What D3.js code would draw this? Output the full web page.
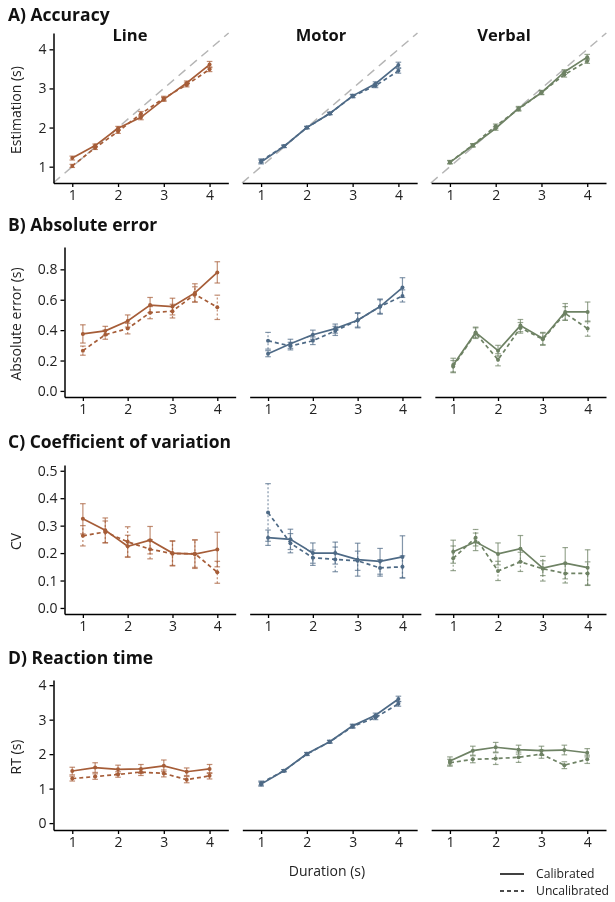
<!DOCTYPE html>
<html>
<head>
<meta charset="utf-8">
<script src="https://cdn.jsdelivr.net/npm/d3@7"></script>
<style>
  html, body { margin: 0; padding: 0; background: #fff; }
  svg { display: block; font-family: "Open Sans", "Noto Sans", sans-serif; }
  .axis text { fill: #222; font-size: 14px; font-family: "Open Sans", "Noto Sans", sans-serif; }
  .mono { filter: grayscale(1); }
</style>
</head>
<body>
<svg id="chart" width="615" height="902"></svg>
<script>
// Target durations (s)
const durations = [1, 1.5, 2, 2.5, 3, 3.5, 4];
const tasks = ["Line", "Motor", "Verbal"];
const taskColors = ["#a65d38", "#4e6a86", "#6e8264"];

// A) Accuracy: mean estimation (s) and error-bar half-widths
const accLineCal     = [1.22, 1.54, 1.98, 2.26, 2.72, 3.14, 3.61];
const accLineCalErr  = [0.05, 0.04, 0.05, 0.06, 0.05, 0.05, 0.08];
const accLineUnc     = [1.02, 1.48, 1.90, 2.35, 2.75, 3.09, 3.49];
const accLineUncErr  = [0.04, 0.04, 0.05, 0.06, 0.05, 0.05, 0.06];
const accMotorCal    = [1.12, 1.52, 2.00, 2.36, 2.81, 3.12, 3.60];
const accMotorCalErr = [0.05, 0.03, 0.03, 0.03, 0.04, 0.05, 0.07];
const accMotorUnc    = [1.15, 1.52, 2.00, 2.36, 2.80, 3.07, 3.45];
const accMotorUncErr = [0.05, 0.03, 0.03, 0.03, 0.04, 0.05, 0.06];
const accVerbCal     = [1.11, 1.54, 1.98, 2.49, 2.89, 3.42, 3.80];
const accVerbCalErr  = [0.04, 0.04, 0.05, 0.05, 0.05, 0.06, 0.07];
const accVerbUnc     = [1.12, 1.55, 2.04, 2.47, 2.90, 3.35, 3.70];
const accVerbUncErr  = [0.04, 0.04, 0.05, 0.05, 0.05, 0.06, 0.06];

// B) Absolute error (s)
const absLineCal     = [0.375, 0.395, 0.46, 0.565, 0.555, 0.645, 0.78];
const absLineCalErr  = [0.06, 0.03, 0.04, 0.05, 0.055, 0.06, 0.07];
const absLineUnc     = [0.265, 0.37, 0.41, 0.515, 0.525, 0.635, 0.55];
const absLineUncErr  = [0.03, 0.03, 0.035, 0.04, 0.045, 0.05, 0.08];
const absMotorCal    = [0.245, 0.31, 0.37, 0.41, 0.465, 0.555, 0.68];
const absMotorCalErr = [0.02, 0.03, 0.03, 0.03, 0.05, 0.05, 0.065];
const absMotorUnc    = [0.33, 0.295, 0.33, 0.395, 0.465, 0.555, 0.625];
const absMotorUncErr = [0.055, 0.025, 0.025, 0.03, 0.045, 0.045, 0.04];
const absVerbCal     = [0.17, 0.385, 0.265, 0.43, 0.345, 0.52, 0.52];
const absVerbCalErr  = [0.045, 0.035, 0.035, 0.04, 0.04, 0.055, 0.065];
const absVerbUnc     = [0.16, 0.38, 0.205, 0.415, 0.34, 0.51, 0.41];
const absVerbUncErr  = [0.04, 0.035, 0.04, 0.035, 0.04, 0.045, 0.05];

// C) Coefficient of variation
const cvLineCal     = [0.325, 0.283, 0.225, 0.247, 0.20, 0.196, 0.213];
const cvLineCalErr  = [0.055, 0.045, 0.04, 0.05, 0.045, 0.052, 0.063];
const cvLineUnc     = [0.263, 0.277, 0.241, 0.214, 0.198, 0.198, 0.13];
const cvLineUncErr  = [0.037, 0.04, 0.055, 0.035, 0.045, 0.05, 0.04];
const cvMotorCal    = [0.256, 0.25, 0.20, 0.20, 0.176, 0.17, 0.186];
const cvMotorCalErr = [0.028, 0.037, 0.037, 0.04, 0.06, 0.047, 0.077];
const cvMotorUnc    = [0.348, 0.236, 0.183, 0.177, 0.172, 0.146, 0.15];
const cvMotorUncErr = [0.105, 0.035, 0.028, 0.045, 0.035, 0.03, 0.04];
const cvVerbCal     = [0.205, 0.241, 0.197, 0.216, 0.145, 0.163, 0.147];
const cvVerbCalErr  = [0.042, 0.032, 0.04, 0.048, 0.027, 0.057, 0.065];
const cvVerbUnc     = [0.181, 0.256, 0.135, 0.168, 0.143, 0.126, 0.126];
const cvVerbUncErr  = [0.045, 0.03, 0.035, 0.035, 0.045, 0.035, 0.042];

// D) Reaction time (s)
const rtLineCal     = [1.51, 1.61, 1.56, 1.57, 1.66, 1.49, 1.57];
const rtLineCalErr  = [0.11, 0.14, 0.12, 0.13, 0.17, 0.11, 0.13];
const rtLineUnc     = [1.29, 1.35, 1.41, 1.48, 1.44, 1.26, 1.37];
const rtLineUncErr  = [0.07, 0.08, 0.08, 0.10, 0.10, 0.09, 0.09];
const rtMotorCal    = [1.13, 1.52, 2.01, 2.36, 2.82, 3.13, 3.60];
const rtMotorCalErr = [0.06, 0.03, 0.04, 0.04, 0.05, 0.06, 0.08];
const rtMotorUnc    = [1.16, 1.52, 2.00, 2.36, 2.80, 3.06, 3.46];
const rtMotorUncErr = [0.06, 0.03, 0.04, 0.04, 0.05, 0.06, 0.07];
const rtVerbCal     = [1.80, 2.10, 2.20, 2.13, 2.10, 2.12, 2.04];
const rtVerbCalErr  = [0.12, 0.13, 0.14, 0.13, 0.13, 0.14, 0.12];
const rtVerbUnc     = [1.75, 1.85, 1.87, 1.91, 2.00, 1.68, 1.85];
const rtVerbUncErr  = [0.10, 0.10, 0.17, 0.15, 0.12, 0.10, 0.12];

// Axis ticks
const xTicks = [1, 2, 3, 4];
const accTicks = [1, 2, 3, 4];
const absTicks = [0, 0.2, 0.4, 0.6, 0.8];
const cvTicks = [0, 0.1, 0.2, 0.3, 0.4, 0.5];
const rtTicks = [0, 1, 2, 3, 4];

// Panel rows
const rows = [
  { title: "A) Accuracy", titleY: 20.5, top: 33, bottom: 183, left: 53.5,
    yDomain: [0.583, 4.417], ticks: accTicks, fmt: d3.format("d"), ylab: "Estimation (s)",
    identity: true,
    series: [[accLineCal, accLineCalErr, accLineUnc, accLineUncErr],
             [accMotorCal, accMotorCalErr, accMotorUnc, accMotorUncErr],
             [accVerbCal, accVerbCalErr, accVerbUnc, accVerbUncErr]] },
  { title: "B) Absolute error", titleY: 230.5, top: 247, bottom: 397, left: 64.5,
    yDomain: [-0.04, 0.947], ticks: absTicks, fmt: d3.format(".1f"), ylab: "Absolute error (s)",
    series: [[absLineCal, absLineCalErr, absLineUnc, absLineUncErr],
             [absMotorCal, absMotorCalErr, absMotorUnc, absMotorUncErr],
             [absVerbCal, absVerbCalErr, absVerbUnc, absVerbUncErr]] },
  { title: "C) Coefficient of variation", titleY: 447.5, top: 465, bottom: 614, left: 64.5,
    yDomain: [-0.022, 0.521], ticks: cvTicks, fmt: d3.format(".1f"), ylab: "CV",
    series: [[cvLineCal, cvLineCalErr, cvLineUnc, cvLineUncErr],
             [cvMotorCal, cvMotorCalErr, cvMotorUnc, cvMotorUncErr],
             [cvVerbCal, cvVerbCalErr, cvVerbUnc, cvVerbUncErr]] },
  { title: "D) Reaction time", titleY: 664, top: 680, bottom: 830, left: 53.5,
    yDomain: [-0.2, 4.15], ticks: rtTicks, fmt: d3.format("d"), ylab: "RT (s)",
    series: [[rtLineCal, rtLineCalErr, rtLineUnc, rtLineUncErr],
             [rtMotorCal, rtMotorCalErr, rtMotorUnc, rtMotorUncErr],
             [rtVerbCal, rtVerbCalErr, rtVerbUnc, rtVerbUncErr]] }
];

const svg = d3.select("#chart");
const textLayer = svg.append("g").attr("class", "mono");
const dataLayer = svg.append("g");
const axisLayer = svg.append("g").attr("class", "mono");

const rightEdge = 606;
const gap = 14;
const xDomain = [0.59, 4.41];
const stripX = [130, 321, 504];
const capW = 2.8;

rows.forEach((row, ri) => {
  const pw = (rightEdge - row.left - 2 * gap) / 3;
  const y = d3.scaleLinear().domain(row.yDomain).range([row.bottom, row.top]);

  textLayer.append("text")
    .attr("x", 8).attr("y", row.titleY)
    .attr("font-size", 17.5).attr("font-weight", 700).style("fill", "#111")
    .text(row.title);

  textLayer.append("text")
    .attr("transform", `translate(21,${(row.top + row.bottom) / 2 + 2}) rotate(-90)`)
    .attr("text-anchor", "middle")
    .attr("font-size", 14).style("fill", "#222")
    .text(row.ylab);

  tasks.forEach((task, ti) => {
    const x0 = row.left + ti * (pw + gap);
    const x = d3.scaleLinear().domain(xDomain).range([x0, x0 + pw]);
    const color = taskColors[ti];
    const g = dataLayer.append("g");

    if (ri === 0) {
      textLayer.append("text")
        .attr("x", stripX[ti]).attr("y", 41)
        .attr("text-anchor", "middle")
        .attr("font-size", 16.5).attr("font-weight", 700).style("fill", "#111")
        .text(task);
    }

    // reference diagonal: estimation equals duration
    if (row.identity) {
      g.append("line")
        .attr("x1", x(row.yDomain[0])).attr("y1", y(row.yDomain[0]))
        .attr("x2", x(row.yDomain[1])).attr("y2", y(row.yDomain[1]))
        .attr("stroke", "#b5b5b5").attr("stroke-width", 1.5)
        .attr("stroke-dasharray", "9,6");
    }

    const [cal, calErr, unc, uncErr] = row.series[ti];
    const conds = [
      { m: unc, e: uncErr, dash: "4,3", barDash: "2,2" },
      { m: cal, e: calErr, dash: null, barDash: null }
    ];

    conds.forEach(c => {
      const pts = durations.map((d, i) => ({ d, m: c.m[i], e: c.e[i] }));
      // error bars
      const eb = g.append("g")
        .attr("stroke", color).attr("stroke-opacity", 0.7).attr("stroke-width", 1.2);
      pts.forEach(p => {
        const px = x(p.d), lo = y(p.m - p.e), hi = y(p.m + p.e);
        eb.append("line").attr("x1", px).attr("x2", px).attr("y1", lo).attr("y2", hi)
          .attr("stroke-dasharray", c.barDash);
        eb.append("line").attr("x1", px - capW).attr("x2", px + capW).attr("y1", lo).attr("y2", lo);
        eb.append("line").attr("x1", px - capW).attr("x2", px + capW).attr("y1", hi).attr("y2", hi);
      });
      // mean line
      g.append("path")
        .datum(pts)
        .attr("fill", "none").attr("stroke", color).attr("stroke-width", 1.7)
        .attr("stroke-dasharray", c.dash)
        .attr("d", d3.line().x(p => x(p.d)).y(p => y(p.m)));
      g.selectAll(null).data(pts).enter().append("circle")
        .attr("cx", p => x(p.d)).attr("cy", p => y(p.m)).attr("r", 2)
        .attr("fill", color);
    });

    // x axis
    const xa = axisLayer.append("g").attr("class", "axis")
      .attr("transform", `translate(0,${row.bottom})`)
      .call(d3.axisBottom(x).tickValues(xTicks).tickFormat(d3.format("d")).tickSize(4).tickPadding(3).tickSizeOuter(0));
    xa.select(".domain").attr("stroke", "#000").attr("stroke-width", 1.5);
    xa.selectAll(".tick line").attr("stroke", "#000").attr("stroke-width", 1.3);

    // y axis on the first panel only
    if (ti === 0) {
      const ya = axisLayer.append("g").attr("class", "axis")
        .attr("transform", `translate(${x0},0)`)
        .call(d3.axisLeft(y).tickValues(row.ticks).tickFormat(row.fmt).tickSize(4).tickPadding(3).tickSizeOuter(0));
      ya.select(".domain").attr("stroke", "#000").attr("stroke-width", 1.5);
      ya.selectAll(".tick line").attr("stroke", "#000").attr("stroke-width", 1.3);
    }
  });
});

// shared x-axis title
textLayer.append("text")
  .attr("x", 327).attr("y", 875.5)
  .attr("text-anchor", "middle")
  .attr("font-size", 14).style("fill", "#222")
  .text("Duration (s)");

// legend
const legend = svg.append("g").attr("class", "mono");
const legendItems = [
  { label: "Calibrated", dash: null, y: 874 },
  { label: "Uncalibrated", dash: "4,3", y: 891 }
];
legendItems.forEach(it => {
  legend.append("line")
    .attr("x1", 500).attr("x2", 524).attr("y1", it.y).attr("y2", it.y)
    .attr("stroke", "#111").attr("stroke-width", 1.6)
    .attr("stroke-dasharray", it.dash);
  legend.append("text")
    .attr("x", 536).attr("y", it.y + 4.3)
    .attr("font-size", 12.2).style("fill", "#222")
    .text(it.label);
});
</script>
</body>
</html>
